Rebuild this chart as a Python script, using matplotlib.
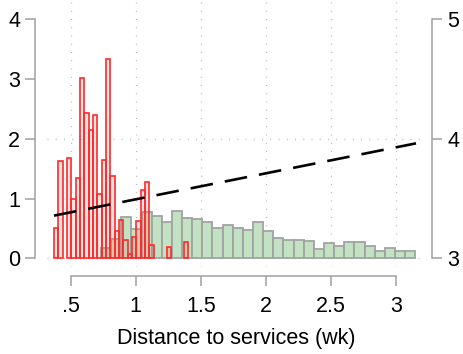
import numpy as np
import matplotlib
matplotlib.use("Agg")
import matplotlib.pyplot as plt

plt.rcParams['font.family'] = ['Liberation Sans', 'DejaVu Sans']

# ---- data ----
red_start = 0.372
red_width = 0.0333
red_heights = [0.50, 1.63, 0.0, 1.68, 0.99, 1.34, 3.02, 2.43, 2.15, 2.39, 1.08, 1.65,
               3.33, 1.38, 0.45, 0.64, 0.30, 0.08, 0.35, 0.62, 1.15, 1.27, 0.23,
               0.0, 0.0, 0.0, 0.19, 0.0, 0.0, 0.0, 0.28]

green_start = 0.733
green_width = 0.0779
green_heights = [0.17, 0.32, 0.69, 0.49, 0.77, 0.71, 0.61, 0.80, 0.68, 0.65, 0.60,
                 0.51, 0.56, 0.50, 0.47, 0.60, 0.46, 0.34, 0.31, 0.31, 0.29, 0.16,
                 0.26, 0.20, 0.28, 0.28, 0.21, 0.13, 0.17, 0.12, 0.12]

line_x = [0.372, 3.154]
line_y = [3.357, 3.962]

xticks = [0.5, 1, 1.5, 2, 2.5, 3]
xticklabels = ['.5', '1', '1.5', '2', '2.5', '3']
yticks_left = [0, 1, 2, 3, 4]
yticks_right = [3, 4, 5]
xlabel = 'Distance to services (wk)'

# ---- figure ----
W, H = 464, 354
fig = plt.figure(figsize=(W / 100, H / 100), dpi=100)
left_px, right_px, top_px, bot_px = 46.7, 425, 1, 267
ax = fig.add_axes([left_px / W, 1 - bot_px / H, (right_px - left_px) / W, (bot_px - top_px) / H])

ylo = (258.3 - bot_px) / 59.75
yhi = (258.3 - top_px) / 59.75
ax.set_xlim(0.316, 3.223)
ax.set_ylim(ylo, yhi)

axis_gray = '#a0a0a0'
grid_gray = '#b4b4b4'
fs = 15.5

# gridlines
for xv in xticks:
    ax.axvline(xv, color=grid_gray, lw=0.9, dashes=(0.8, 5.8), zorder=0)
for yv in [0, 2]:
    ax.axhline(yv, color=grid_gray, lw=0.9, dashes=(0.8, 5.8), zorder=0)

# bars
g_left = green_start + green_width * np.arange(len(green_heights))
ax.bar(g_left, green_heights, width=green_width, align='edge',
       facecolor='#c3e1c3', edgecolor='#a0a4a0', linewidth=1.3, zorder=2)
r_left = red_start + red_width * np.arange(len(red_heights))
r_mask = np.array(red_heights) > 0
ax.bar(r_left[r_mask], np.array(red_heights)[r_mask], width=red_width, align='edge',
       facecolor=(1, 0.3, 0.3, 0.15), edgecolor='#ff2a2a', linewidth=1.2, zorder=3)

# spines / axes
for s in ['top', 'right']:
    ax.spines[s].set_visible(False)
ax.spines['left'].set_position(('outward', 8.4))
ax.spines['left'].set_bounds(0, 4)
ax.spines['bottom'].set_position(('outward', 6.5))
ax.spines['bottom'].set_bounds(0.5, 3)
for s in ['left', 'bottom']:
    ax.spines[s].set_color(axis_gray)
    ax.spines[s].set_linewidth(1.1)

ax.set_xticks(xticks)
ax.set_xticklabels(xticklabels)
ax.set_yticks(yticks_left)
ax.tick_params(axis='both', colors=axis_gray, labelcolor='black', length=7.2, width=1.1,
               labelsize=fs)
ax.tick_params(axis='x', pad=7)
ax.tick_params(axis='y', pad=3.5)
ax.set_xlabel(xlabel, fontsize=fs, labelpad=8)

ax2 = ax.twinx()
ax2.set_ylim(3 + ylo / 2, 3 + yhi / 2)
for s in ['top', 'left', 'bottom']:
    ax2.spines[s].set_visible(False)
ax2.spines['right'].set_position(('outward', 5.3))
ax2.spines['right'].set_bounds(3, 5)
ax2.spines['right'].set_color(axis_gray)
ax2.spines['right'].set_linewidth(1.1)
ax2.set_yticks(yticks_right)
ax2.tick_params(axis='y', colors=axis_gray, labelcolor='black', length=7.2, width=1.1,
                labelsize=fs, pad=3.5)

ax2.plot(line_x, line_y, color='black', lw=1.9, dashes=(8.6, 4.6), solid_capstyle='butt',
         dash_capstyle='butt', zorder=5)

fig.savefig('out.png', dpi=100)
